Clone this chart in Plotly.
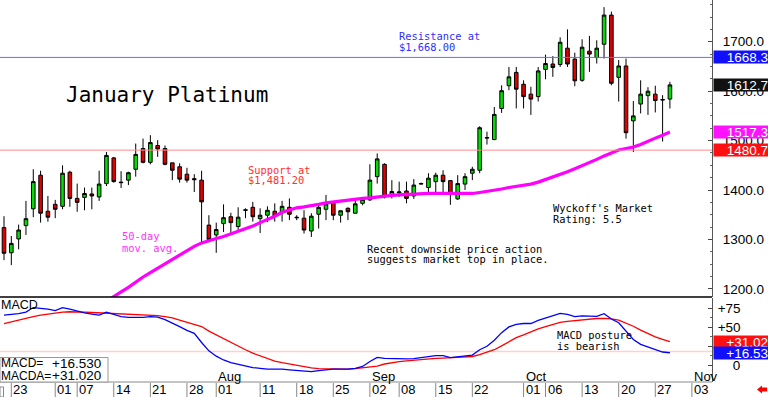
import pandas as pd
import plotly.graph_objects as go

# ---------------- data ----------------
holidays = ["2025-07-04", "2025-09-01"]
axis_days = [d.strftime("%Y-%m-%d") for d in pd.bdate_range("2025-06-20", "2025-11-07")
             if d.strftime("%Y-%m-%d") not in holidays]
n_bars = 92
dates = axis_days[:n_bars]

open_ = [1324,1273,1301,1328,1362,1430,1357,1371,1367,1436,
         1383,1385,1392,1386,1413,1465,1416,1420,1442,1484,
         1456,1490,1484,1455,1447,1432,1423,1420,1329,1309,
         1332,1346,1326,1360,1365,1342,1349,1357,1354,1365,
         1345,1343,1317,1351,1361,1375,1349,1363,1353,1373,
         1380,1427,1452,1390,1394,1398,1388,1412,1405,1417,
         1430,1419,1382,1412,1434,1440,1505,1502,1565,1611,
         1638,1614,1594,1589,1644,1655,1654,1687,1665,1622,
         1681,1668,1695,1754,1628,1651,1540,1574,1591,1594,
         1582,1584]
high = [1347,1307,1330,1378,1442,1439,1388,1380,1450,1439,
        1413,1405,1405,1439,1477,1467,1438,1437,1494,1504,
        1511,1501,1490,1455,1454,1445,1432,1439,1349,1334,
        1371,1354,1365,1363,1376,1363,1367,1373,1378,1383,
        1349,1359,1353,1369,1390,1376,1359,1365,1381,1385,
        1452,1474,1454,1420,1417,1417,1422,1415,1434,1435,
        1440,1420,1430,1434,1447,1529,1518,1568,1612,1649,
        1649,1622,1609,1649,1674,1671,1709,1725,1678,1705,
        1712,1703,1770,1761,1663,1666,1580,1622,1608,1611,
        1592,1619]
low = [1258,1248,1280,1309,1345,1334,1336,1343,1361,1366,
       1356,1359,1361,1378,1408,1415,1404,1410,1427,1454,
       1452,1467,1450,1420,1415,1415,1396,1293,1295,1273,
       1315,1313,1319,1343,1336,1313,1335,1336,1336,1339,
       1339,1312,1305,1322,1339,1339,1334,1339,1353,1369,
       1378,1413,1383,1383,1386,1373,1382,1411,1396,1395,
       1396,1370,1380,1400,1420,1434,1492,1501,1556,1602,
       1565,1565,1552,1579,1624,1629,1649,1649,1610,1619,
       1639,1656,1666,1612,1579,1504,1477,1555,1552,1557,
       1498,1565]
close = [1272,1292,1319,1342,1417,1353,1345,1361,1434,1383,
         1375,1393,1388,1412,1470,1417,1415,1435,1472,1456,
         1496,1483,1452,1440,1422,1420,1421,1376,1300,1320,
         1344,1334,1345,1359,1346,1349,1359,1347,1367,1351,
         1344,1319,1347,1365,1372,1349,1358,1356,1372,1381,
         1420,1463,1386,1397,1396,1383,1410,1413,1424,1430,
         1417,1391,1413,1427,1442,1526,1506,1553,1601,1629,
         1604,1589,1584,1641,1656,1648,1699,1655,1621,1689,
         1675,1687,1754,1616,1651,1516,1550,1594,1600,1581,
         1583,1612.7]

ma50 = [None]*13 + [
    1165,1175,1185,1194,1203,1214,1224,1233,1242,1251,
    1260,1269,1278,1286,1293,1298,1302,1306,1311,1316,
    1321,1327,1334,1340,1347,1355,1360,1364,1366,1368,
    1371,1374,1376,1378,1380,1382,1383,1384,1386,1388,
    1389,1390,1391,1392,1392,1393,1393,1393,1393,1393,
    1392,1393,1395,1397,1399,1402,1405,1407,1409,1412,
    1416,1421,1426,1431,1437,1443,1449,1455,1462,1469,
    1475,1481,1484,1487,1492,1499,1505,1511,1517.3]

macd = [66,67,68,70,76,75,74,72,76,74,
        71,69,67.5,66,70,67,64,63,63,63,
        64,63.5,60,56,51,46,42,30,19,12,
        7,3.5,1,-1.5,-3,-4,-5,-5,-5,-6,
        -7,-8,-8.4,-7,-6,-5,-5,-5,-4,-1.5,
        5,10.5,9,8.6,8.3,8.5,8.9,10.5,11.5,12.6,
        12.6,10.2,11,12,13.5,20.5,25,33,43,50.5,
        54,55,55,59,62,65.5,68.4,67,64,65,
        64.5,64.5,68,61,56,45,34,27.5,24.5,21.5,
        17.5,16.53]
macda = [55,57.5,60,62,64,66,67.5,69,70,70.5,
         70.5,70,69.5,69,68.5,68,67.7,67.3,67,66.5,
         66,65.3,64,62.3,59.5,57,54.5,51,45,40,
         35,29.5,25,20.5,16,12.5,9,5.5,3.5,1.5,
         0,-1.5,-3.5,-4.3,-4.7,-5,-5,-5,-4.5,-3.5,
         -2.3,-1,1.7,3.5,4.8,5.8,6.8,7.5,8.3,9.1,
         9.5,10,10.5,11,11.6,14,17,20.5,25.5,31,
         36.5,40,44.5,48,51,54,56.4,57.7,58.9,60.1,
         60.8,61.6,61.8,61.2,59.5,55.5,51.4,46.3,41.7,37.5,
         34,31.02]

tick_dates = ["2025-06-23","2025-07-01","2025-07-07","2025-07-14","2025-07-21","2025-07-28",
              "2025-08-01","2025-08-11","2025-08-18","2025-08-25","2025-09-02","2025-09-08",
              "2025-09-15","2025-09-22","2025-10-01","2025-10-06","2025-10-13","2025-10-20",
              "2025-10-27","2025-11-03"]
month_dates = ["2025-08-01","2025-09-02","2025-10-01","2025-11-03"]
month_text = ["Aug","Sep","Oct","Nov"]

resistance = 1668.3
support = 1480.7
last_close = 1612.7
last_ma = 1517.3
macd_ref = 18
last_macd = 16.53
last_macda = 31.02

# ---------------- figure ----------------
idx = {d: i for i, d in enumerate(axis_days)}
xi = list(range(n_bars))

W, H = 768, 397
PL, PR = 0, 712
PB = 382


def fx(X):
    return (X - PL) / (PR - PL)


def fy(Y):
    return (PB - Y) / PB


fig = go.Figure()
fig.add_trace(go.Candlestick(
    x=xi, open=open_, high=high, low=low, close=close,
    increasing=dict(line=dict(color="black", width=1), fillcolor="#00dd00"),
    decreasing=dict(line=dict(color="black", width=1), fillcolor="#e00000"),
    whiskerwidth=0, xaxis="x", yaxis="y", showlegend=False, hoverinfo="skip"))
fig.add_trace(go.Scatter(x=xi, y=ma50, mode="lines", line=dict(color="#ff00ff", width=3.2),
                         xaxis="x", yaxis="y", showlegend=False, hoverinfo="skip"))
fig.add_trace(go.Scatter(x=xi, y=macda, mode="lines", line=dict(color="#ff0000", width=1.3),
                         xaxis="x", yaxis="y2", showlegend=False, hoverinfo="skip"))
fig.add_trace(go.Scatter(x=xi, y=macd, mode="lines", line=dict(color="#0000ff", width=1.3),
                         xaxis="x", yaxis="y2", showlegend=False, hoverinfo="skip"))

price_dom = [fy(297), 1]
macd_dom = [0, fy(298)]

fig.update_layout(
    width=W, height=H, margin=dict(l=PL, r=W - PR, t=0, b=H - PB, autoexpand=False),
    paper_bgcolor="white", plot_bgcolor="white",
    xaxis=dict(range=[-0.547, 96.75], visible=False, rangeslider=dict(visible=False),
               anchor="y2"),
    yaxis=dict(domain=price_dom, range=[1183.5, 1784.5], side="right", showgrid=False,
               zeroline=False, tickmode="array", tickvals=[1200, 1300, 1400, 1500, 1600, 1700],
               tickformat=".1f", ticks="inside", ticklen=4, tickcolor="#444",
               minor=dict(dtick=25, ticks="inside", ticklen=2, tickcolor="#666"),
               showline=True, linecolor="#555", linewidth=1, automargin=False,
               tickfont=dict(family="Liberation Sans", size=13.5, color="black"),
               ticklabelstandoff=7),
    yaxis2=dict(domain=macd_dom, range=[-22, 88.6], side="right", showgrid=False,
                zeroline=False, tickmode="array", tickvals=[0, 25, 50, 75],
                ticktext=["\u2007\u20070", "+25", "+50", "+75"],
                ticks="inside", ticklen=4, tickcolor="#444",
                minor=dict(dtick=12.5, ticks="inside", ticklen=2, tickcolor="#666"),
                showline=True, linecolor="#555", linewidth=1, automargin=False,
                tickfont=dict(family="Liberation Sans", size=13.5, color="black"),
                ticklabelstandoff=2),
)

shapes = []
shapes.append(dict(type="line", xref="paper", yref="paper", x0=0, x1=1, y0=fy(297), y1=fy(297),
                   line=dict(color="black", width=1.5)))
shapes.append(dict(type="line", xref="paper", yref="paper", x0=0, x1=1, y0=fy(382), y1=fy(382),
                   line=dict(color="#888", width=1)))
shapes.append(dict(type="line", xref="paper", yref="y", x0=0, x1=1, y0=resistance, y1=resistance,
                   line=dict(color="#6a6aff", width=1)))
shapes.append(dict(type="line", xref="paper", yref="y", x0=0, x1=1, y0=support, y1=support,
                   line=dict(color="#ff8a8a", width=1)))
shapes.append(dict(type="line", xref="paper", yref="y2", x0=0, x1=1, y0=macd_ref, y1=macd_ref,
                   line=dict(color="#ffd0d0", width=1.5), layer="below"))
shapes.append(dict(type="rect", xref="paper", yref="paper", x0=fx(0), x1=fx(108), y0=fy(382),
                   y1=fy(357.5), fillcolor="white", line=dict(color="#999", width=1)))
for d in tick_dates:
    k = idx[d]
    shapes.append(dict(type="line", xref="x", yref="paper", x0=k, x1=k, y0=fy(383), y1=fy(397),
                       line=dict(color="#888", width=1)))
shapes.append(dict(type="rect", xref="paper", yref="paper", x0=fx(0), x1=fx(3.5), y0=fy(397),
                   y1=fy(387), line=dict(color="#888", width=1)))
pts = [(757, 389.5), (762, 385.5), (762, 387.5), (767, 387.5), (767, 391.5), (762, 391.5), (762, 393.5)]
path = "M " + " L ".join(f"{fx(a):.5f},{fy(b):.5f}" for a, b in pts) + " Z"
shapes.append(dict(type="path", xref="paper", yref="paper", path=path, fillcolor="#ff0000",
                   line=dict(color="#ff0000", width=0)))
fig.update_layout(shapes=shapes)

ann = []


def note(text, X, Y, color="black", size=10.4, family="DejaVu Sans Mono", anchor="left"):
    ann.append(dict(text=text, xref="paper", yref="paper", x=fx(X), y=fy(Y), xanchor=anchor,
                    yanchor="middle", showarrow=False,
                    font=dict(family=family, size=size, color=color)))


note("January Platinum", 64, 95, size=21)
note("Resistance at", 397, 36, color="#2e2eff")
note("$1,668.00", 397, 46.5, color="#2e2eff")
note("Support at", 246, 169.5, color="#ff3030")
note("$1,481.20", 246, 180, color="#ff3030")
note("50-day", 120, 236.5, color="#ff30ff")
note("mov. avg.", 120, 247.5, color="#ff30ff")
note("Recent downside price action", 365, 248.5)
note("suggests market top in place.", 365, 259)
note("Wyckoff's Market", 551, 208.5)
note("Rating: 5.5", 551, 219)
note("MACD posture", 555, 335)
note("is bearish", 555, 345.5)
note("MACD", -1, 304.5, family="Liberation Sans", size=12.5)
note("MACD=", -1, 363, family="Liberation Sans", size=12)
note("+16.530", 50, 363, family="Liberation Sans", size=13.5)
note("MACDA=", -1, 375.5, family="Liberation Sans", size=12)
note("+31.020", 50, 375.5, family="Liberation Sans", size=13.5)

for d in tick_dates:
    ann.append(dict(text=d[-2:], xref="x", yref="paper", x=idx[d], y=fy(389.5), xanchor="left",
                    yanchor="middle", xshift=0, showarrow=False,
                    font=dict(family="Liberation Sans", size=13, color="black")))
for d, t in zip(month_dates, month_text):
    ann.append(dict(text=t, xref="x", yref="paper", x=idx[d], y=fy(376.5), xanchor="left",
                    yanchor="middle", xshift=0, showarrow=False,
                    font=dict(family="Liberation Sans", size=13, color="black")))


def vbox(val, yref, bg, txt):
    ann.append(dict(text=txt, xref="paper", yref=yref, x=1, y=val, xanchor="left", yanchor="middle",
                    xshift=1, showarrow=False, bgcolor=bg, width=54, height=12, align="right",
                    borderpad=0, font=dict(family="Liberation Sans", size=13.5, color="white")))


vbox(resistance, "y", "#1010ff", f"{resistance:.1f}")
vbox(last_close, "y", "#111111", f"{last_close:.1f}")
vbox(last_ma, "y", "#ff10ff", f"{last_ma:.1f}")
vbox(support, "y", "#ff1010", f"{support:.1f}")
vbox(last_macda, "y2", "#ff1010", f"+{last_macda:.2f}")
vbox(last_macd, "y2", "#1010ff", f"+{last_macd:.2f}")

fig.update_layout(annotations=ann)
fig.write_html("out.html", config={"displayModeBar": False},
               post_script="document.body.style.margin='0';document.body.style.overflow='hidden';")
